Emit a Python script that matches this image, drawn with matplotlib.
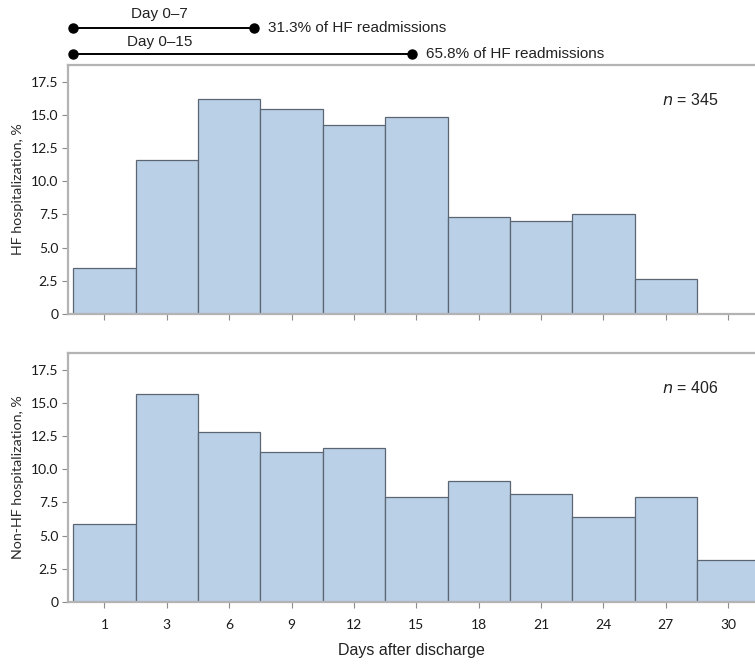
import numpy as np
import matplotlib
matplotlib.use("Agg")
import matplotlib.pyplot as plt

# --- data ---
day_labels = ["1", "3", "6", "9", "12", "15", "18", "21", "24", "27", "30"]
hf_pct = [3.5, 11.6, 16.2, 15.4, 14.2, 14.8, 7.3, 7.0, 7.5, 2.6, 0.0]
non_hf_pct = [5.9, 15.7, 12.8, 11.3, 11.6, 7.9, 9.1, 8.1, 6.4, 7.9, 3.2]
n_hf = 345
n_non_hf = 406

# readmission windows shown above the top panel (end given on the bin axis)
window_names = ["Day 0\u20137", "Day 0\u201315"]
window_share = ["31.3%", "65.8%"]
window_end = [2.4, 4.93]

bar_fill = "#b9d0e7"
bar_edge = "#5c6672"
spine_col = "#b3b3b3"
tick_font = "Lato"
text_font = ["Liberation Sans", "DejaVu Sans"]

fig = plt.figure(figsize=(7.55, 6.65), dpi=100)
ax_top = fig.add_axes([68 / 755, 1 - 314 / 665, 687 / 755, 249 / 665])
ax_bot = fig.add_axes([68 / 755, 1 - 602 / 665, 687 / 755, 249 / 665])

x = np.arange(len(day_labels))
yticks = np.arange(0, 17.6, 2.5)
ytick_labels = ["0"] + [f"{v:.1f}" for v in yticks[1:]]


def style_panel(ax, values, ylabel, n):
    ax.bar(x, values, width=1.0, color=bar_fill, edgecolor=bar_edge, linewidth=0.9)
    ax.set_xlim(-0.585, 10.43)
    ax.set_ylim(0, 18.75)
    ax.spines["right"].set_visible(False)
    for s in ["left", "top", "bottom"]:
        ax.spines[s].set_color(spine_col)
        ax.spines[s].set_linewidth(1.6)
    ax.set_yticks(yticks)
    ax.set_yticklabels(ytick_labels, fontfamily=tick_font, fontsize=10,
                       color="#1a1a1a")
    ax.set_xticks(x)
    ax.tick_params(axis="both", direction="out", length=4, width=0.8,
                   color="#8c8c8c", pad=3)
    ax.set_ylabel(ylabel, fontfamily=tick_font, fontsize=10.3, labelpad=5,
                  color="#2a2a2a")
    ax.text(0.905, 0.86, f"$\\it{{n}}$ = {n}", transform=ax.transAxes,
            ha="center", va="center", fontsize=11.5, family=text_font,
            color="#222222")


style_panel(ax_top, hf_pct, "HF hospitalization, %", n_hf)
ax_top.set_xticklabels([])
style_panel(ax_bot, non_hf_pct, "Non-HF hospitalization, %", n_non_hf)
ax_bot.set_xticklabels(day_labels, fontfamily=tick_font, fontsize=10,
                       color="#1a1a1a")
ax_bot.tick_params(axis="x", pad=8)
ax_bot.set_xlabel("Days after discharge", family=text_font, fontsize=11.5,
                  labelpad=9, color="#222222")

# window annotations above the top panel
trans = ax_top.get_xaxis_transform()
line_y = [1.1486, 1.0442]
name_y = [1.2048, 1.0924]
for name, share, end, ly, ny in zip(window_names, window_share, window_end, line_y, name_y):
    ax_top.plot([-0.5, end], [ly, ly], color="black", lw=1.4, marker="o",
                markersize=6.5, transform=trans, clip_on=False)
    ax_top.text(0.88, ny, name, transform=trans, ha="center", va="center",
                fontsize=11, family=text_font, color="#222222")
    ax_top.annotate(f"{share} of HF readmissions", xy=(end, ly), xycoords=trans,
                    xytext=(10, 0), textcoords="offset points", ha="left",
                    va="center", fontsize=11, family=text_font, color="#222222")

fig.savefig("out.png", dpi=100)
